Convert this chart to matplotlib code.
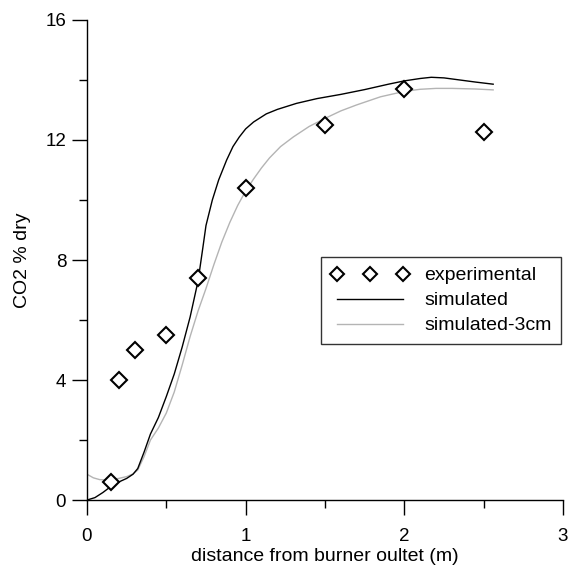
import matplotlib
matplotlib.use("Agg")
import matplotlib.pyplot as plt
from matplotlib.ticker import MultipleLocator

plt.rcParams['font.family'] = ['Liberation Sans', 'DejaVu Sans']

exp_x = [0.15, 0.2, 0.3, 0.5, 0.7, 1.0, 1.5, 2.0, 2.5]
exp_y = [0.6, 4.0, 5.0, 5.5, 7.4, 10.4, 12.5, 13.7, 12.25]

sim_x = [0, 0.05, 0.1, 0.15, 0.2, 0.25, 0.29, 0.32, 0.36, 0.4, 0.45, 0.5, 0.55, 0.6, 0.65,
         0.7, 0.73, 0.75, 0.79, 0.83, 0.88, 0.92, 0.96, 1.0, 1.05, 1.13, 1.2, 1.32,
         1.45, 1.6, 1.75, 1.9, 2.0, 2.1, 2.17, 2.25, 2.35, 2.45, 2.56]
sim_y = [0, 0.08, 0.25, 0.45, 0.6, 0.72, 0.86, 1.05, 1.6, 2.2, 2.75, 3.45, 4.2, 5.1, 6.1,
         7.3, 8.4, 9.15, 10.0, 10.67, 11.33, 11.78, 12.1, 12.37, 12.6, 12.87, 13.02, 13.22,
         13.38, 13.52, 13.68, 13.86, 13.97, 14.05, 14.09, 14.07, 14.0, 13.93, 13.86]

sim3_x = [0, 0.04, 0.08, 0.12, 0.16, 0.2, 0.25, 0.29, 0.32, 0.36, 0.4, 0.45, 0.5, 0.55, 0.6,
          0.65, 0.7, 0.75, 0.8, 0.85, 0.9, 0.95, 1.0, 1.05, 1.1, 1.15, 1.22, 1.3, 1.4, 1.5,
          1.6, 1.7, 1.85, 2.0, 2.1, 2.2, 2.3, 2.45, 2.56]
sim3_y = [0.86, 0.74, 0.68, 0.67, 0.69, 0.72, 0.78, 0.87, 1.0, 1.45, 2.0, 2.4, 2.9, 3.6, 4.5,
          5.45, 6.3, 7.05, 7.85, 8.6, 9.25, 9.82, 10.3, 10.7, 11.07, 11.4, 11.78, 12.1, 12.45, 12.72,
          12.97, 13.17, 13.44, 13.62, 13.69, 13.72, 13.72, 13.7, 13.67]

fig = plt.figure(figsize=(5.78, 5.71), dpi=100)
ax = fig.add_axes([0.1505, 0.1243, 0.8235, 0.8407])

ax.plot(exp_x, exp_y, linestyle='none', marker='D', markersize=8,
        markerfacecolor='white', markeredgecolor='black', markeredgewidth=1.5,
        label='experimental', zorder=3)
ax.plot(sim_x, sim_y, color='black', lw=1.0, label='simulated', zorder=2)
ax.plot(sim3_x, sim3_y, color='#b4b4b4', lw=1.0, label='simulated-3cm', zorder=1)

ax.set_xlim(0, 3)
ax.set_ylim(0, 16)
ax.xaxis.set_major_locator(MultipleLocator(1))
ax.xaxis.set_minor_locator(MultipleLocator(0.5))
ax.yaxis.set_major_locator(MultipleLocator(4))
ax.yaxis.set_minor_locator(MultipleLocator(2))
for s in ['top', 'right']:
    ax.spines[s].set_visible(False)
for s in ['left', 'bottom']:
    ax.spines[s].set_linewidth(1.0)
ax.tick_params(which='major', direction='out', length=11, width=1.0, labelsize=13.5, pad=4)
ax.tick_params(axis='x', which='major', pad=9)
ax.tick_params(which='minor', direction='out', length=6, width=1.0)

ax.set_xlabel('distance from burner oultet (m)', fontsize=14, labelpad=2)
ax.set_ylabel('CO2 % dry', fontsize=14, labelpad=10)

leg = ax.legend(loc='upper left', bbox_to_anchor=(0.4916, 0.506), numpoints=3,
                markerscale=0.85, fontsize=14, frameon=True, fancybox=False,
                edgecolor='black', handlelength=4.0, handletextpad=0.8,
                borderpad=0.5, labelspacing=0.38, borderaxespad=0)
leg.get_frame().set_linewidth(1.0)

fig.savefig('out.png', dpi=100)
